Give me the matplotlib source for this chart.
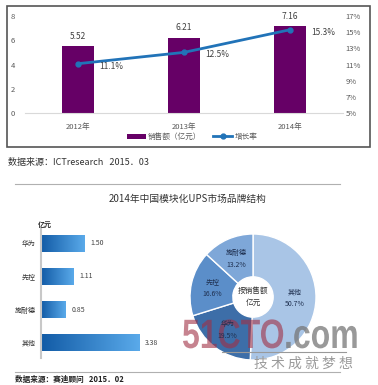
import numpy as np
import matplotlib
matplotlib.use("Agg")
import matplotlib.pyplot as plt
from matplotlib.patches import Rectangle, PathPatch
from matplotlib.lines import Line2D
from matplotlib.textpath import TextPath
from matplotlib.font_manager import FontProperties
from matplotlib.transforms import Affine2D

plt.rcParams['font.family'] = ['Noto Sans CJK SC', 'DejaVu Sans']

# top chart data
years = ["2012年", "2013年", "2014年"]
sales = [5.52, 6.21, 7.16]
growth = [11.1, 12.5, 15.3]

# brand data
brands = ["华为", "先控", "施耐德", "其他"]
brand_sales = [1.50, 1.11, 0.85, 3.38]
pie_brands = ["其他", "华为", "先控", "施耐德"]
pie_share = [50.7, 19.5, 16.6, 13.2]
pie_colors = ["#a9c5e6", "#3d6ea8", "#5b8ec9", "#7ea7d8"]

W, H = 378, 385
fig = plt.figure(figsize=(W / 100, H / 100), dpi=100)


def px_axes(x0, y0, x1, y1, **kw):
    return fig.add_axes([x0 / W, 1 - y1 / H, (x1 - x0) / W, (y1 - y0) / H], **kw)


def fx(x):
    return x / W


def fy(y):
    return 1 - y / H


# frame around top chart
fig.patches.append(Rectangle((fx(7), fy(147)), fx(363), (141) / H, transform=fig.transFigure,
                             fill=False, edgecolor="#555555", linewidth=1.2))

# ---- top chart ----
ax = px_axes(25, 16, 343, 113)
x = np.arange(len(years))
bars = ax.bar(x, sales, width=0.31, color="#660066", label="销售额（亿元）", zorder=2)
ax.set_xlim(-0.5, 2.5)
ax.set_ylim(0, 8)
ax.set_yticks([0, 2, 4, 6, 8])
ax.set_xticks(x)
ax.set_xticklabels(years)
for s in ["top", "left", "right"]:
    ax.spines[s].set_visible(False)
ax.spines["bottom"].set_color("#d9d9d9")
ax.tick_params(length=0, labelsize=5.5, colors="#595959", pad=7)
for b, v in zip(bars, sales):
    ax.text(b.get_x() + b.get_width() / 2, v + 0.45, f"{v:.2f}", ha="center", va="bottom",
            fontsize=6, color="#404040")

ax2 = ax.twinx()
ln, = ax2.plot(x, growth, color="#2173b8", linewidth=2, marker="o", markersize=3.5,
               label="增长率", zorder=3)
ax2.set_ylim(5, 17)
ax2.set_yticks([5, 7, 9, 11, 13, 15, 17])
ax2.set_yticklabels([f"{t}%" for t in [5, 7, 9, 11, 13, 15, 17]])
for s in ["top", "left", "right", "bottom"]:
    ax2.spines[s].set_visible(False)
ax2.tick_params(length=0, labelsize=5.5, colors="#595959", pad=2)
for xi, g in zip(x, growth):
    ax2.text(xi + 0.2, g - 0.3, f"{g}%", ha="left", va="center", fontsize=6, color="#404040")

fig.legend(handles=[bars, ln], labels=["销售额（亿元）", "增长率"], loc="center",
           bbox_to_anchor=(fx(192), fy(137)), ncol=2, frameon=False, fontsize=5.5,
           handlelength=2.5, columnspacing=1.5, handletextpad=0.3, labelcolor="#595959")

fig.text(fx(8), fy(163), "数据来源：ICTresearch   2015．03", fontsize=6.5, color="#333333",
         ha="left", va="center")

# separator lines and title
fig.lines.append(Line2D([fx(15), fx(340)], [fy(184), fy(184)], transform=fig.transFigure,
                        color="#b0b0b0", linewidth=0.8))
fig.lines.append(Line2D([fx(15), fx(340)], [fy(372), fy(372)], transform=fig.transFigure,
                        color="#b0b0b0", linewidth=0.8))
fig.text(fx(188), fy(199), "2014年中国模块化UPS市场品牌结构", fontsize=7, color="#333333",
         ha="center", va="center")
fig.text(fx(15), fy(379), "数据来源：赛迪顾问   2015．02", fontsize=5.5, color="#222222",
         ha="left", va="center", fontweight="bold")

# ---- horizontal bar chart ----
bx = px_axes(41, 228, 157, 358)
y = np.arange(len(brands))
hb = bx.barh(y, brand_sales, height=0.52, color="none")
grad = np.linspace(0, 1, 256).reshape(1, -1)
cmap = matplotlib.colors.LinearSegmentedColormap.from_list("g", ["#125ba6", "#5aaaea"])
for b, v in zip(hb, brand_sales):
    im = bx.imshow(grad, cmap=cmap, aspect="auto",
                   extent=[b.get_x(), b.get_x() + b.get_width(), b.get_y() + b.get_height(), b.get_y()],
                   zorder=2)
    im.set_clip_path(b)
    bx.text(v + 0.2, b.get_y() + b.get_height() / 2, f"{v:.2f}", ha="left", va="center",
            fontsize=5, color="#404040")
bx.set_xlim(0, 4)
bx.set_ylim(3.46, -0.46)
bx.set_yticks(y)
bx.set_yticklabels(brands)
bx.set_xticks([])
for s in ["top", "right", "bottom"]:
    bx.spines[s].set_visible(False)
bx.spines["left"].set_color("#c8c8c8")
bx.spines["left"].set_linewidth(1.5)
bx.tick_params(length=0, labelsize=5, colors="#333333", pad=4)
fig.text(fx(45), fy(224), "亿元", fontsize=5, color="#222222", ha="center", va="center",
         fontweight="bold")

# ---- donut ----
px = px_axes(190, 234, 316, 360)
wedges, _ = px.pie(pie_share, colors=pie_colors, startangle=90, counterclock=False,
                   radius=1, wedgeprops=dict(width=0.68, edgecolor="white", linewidth=1))
px.set_xlim(-1, 1)
px.set_ylim(-1, 1)
# labels drawn at figure level so they stay above the watermark
for w, name, pct in zip(wedges, pie_brands, pie_share):
    ang = np.deg2rad((w.theta1 + w.theta2) / 2)
    r = 0.66
    fig.text(r * np.cos(ang), r * np.sin(ang), f"{name}\n{pct}%", transform=px.transData,
             ha="center", va="center", fontsize=5, color="#1f3050", linespacing=1.6, zorder=5)
px.text(0, 0, "按销售额\n亿元", ha="center", va="center", fontsize=5.5, color="#333333",
        linespacing=1.6)

# watermark (condensed bold letters)
fp = FontProperties(family="Liberation Sans", weight="bold")
tp1 = TextPath((0, 0), "51CTO", size=41, prop=fp)
tp2 = TextPath((0, 0), ".com", size=41, prop=fp)
e1 = tp1.get_extents()
e2 = tp2.get_extents()
sx = 0.78
base = H - 348
t1 = Affine2D().translate(-e1.x0, 0).scale(sx, 1).translate(183, base)
x2 = 183 + e1.width * sx + 3
t2 = Affine2D().translate(-e2.x0, 0).scale(sx, 1).translate(x2, base)
fig.add_artist(PathPatch(tp1, transform=t1, facecolor="#a03045", edgecolor="none", alpha=0.6,
                         zorder=2))
fig.add_artist(PathPatch(tp2, transform=t2, facecolor="#777777", edgecolor="none", alpha=0.75,
                         zorder=2))
fig.lines.append(Line2D([fx(222), fx(346)], [fy(352), fy(352)], transform=fig.transFigure,
                        color="#999999", linewidth=0.8))
fig.text(fx(303), fy(364), "技 术 成 就 梦 想", fontsize=10, color="#9a9a9a", ha="center",
         va="center")

fig.savefig("out.png", dpi=100)
